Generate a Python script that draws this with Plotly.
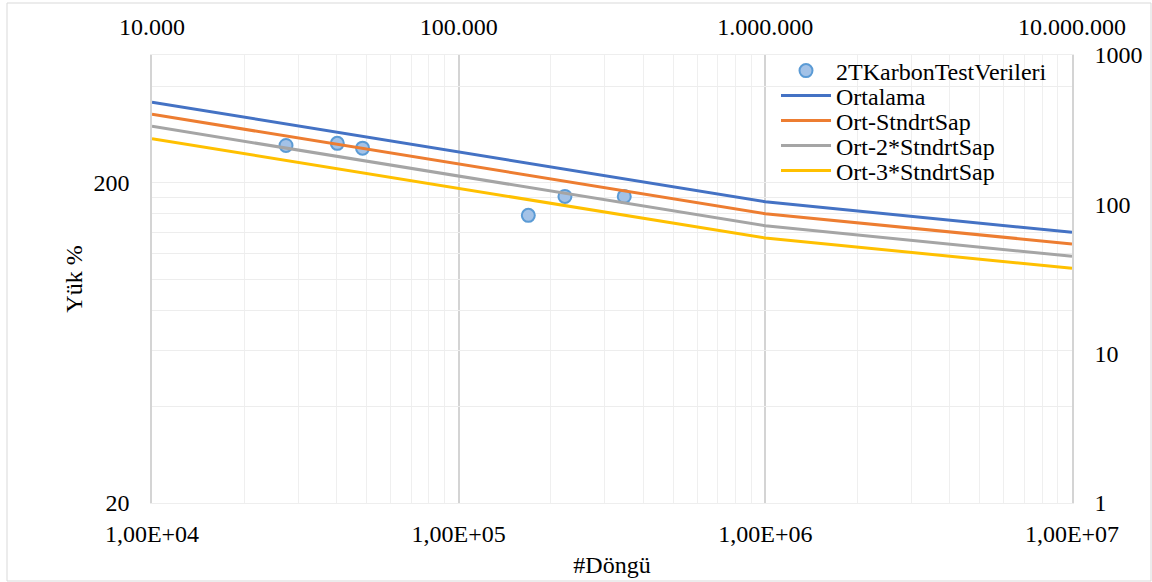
import plotly.graph_objects as go

# ---- data ----
test_cycles = [27350, 40200, 48600, 168700, 222100, 346700]
test_load = [261, 265, 256, 158, 181, 181]

curve_cycles = [1e4, 1e6, 1e7]
ortalama = [483, 104, 65]
ort_1sd = [401, 86.5, 54.3]
ort_2sd = [333, 71.8, 44.9]
ort_3sd = [275, 59.5, 37.3]

x_ticks = [1e4, 1e5, 1e6, 1e7]
x_bottom_labels = ["1,00E+04", "1,00E+05", "1,00E+06", "1,00E+07"]
x_top_labels = ["10.000", "100.000", "1.000.000", "10.000.000"]
y_left_ticks = [20, 40, 60, 80, 100, 120, 140, 160, 180, 200, 400]
y_left_labels = ["20", "", "", "", "", "", "", "", "", "200", ""]
y_right_ticks = [1, 10, 100, 1000]
y_right_labels = ["1", "10", "100", "1000"]
x_minor = [m * 10 ** e for e in (4, 5, 6) for m in range(2, 10)]

FONT = "Liberation Serif, Times New Roman, serif"
FS = 24

W, H = 1152, 582
PL, PR, PT, PB = 152, 1072, 55, 503
legend_rows_px = [71, 96, 121, 146, 171]
legend_left_px = 776

fig = go.Figure()
fig.add_trace(go.Scatter(
    x=test_cycles, y=test_load, mode="markers", name="2TKarbonTestVerileri",
    marker=dict(size=13, color="#A3C2E7", line=dict(color="#5B9BD5", width=2)),
    xaxis="x", yaxis="y", legend="legend"))
names = ["Ortalama", "Ort-StndrtSap", "Ort-2*StndrtSap", "Ort-3*StndrtSap"]
series = [ortalama, ort_1sd, ort_2sd, ort_3sd]
colors = ["#4472C4", "#ED7D31", "#A5A5A5", "#FFC000"]
for i, (name, vals, col) in enumerate(zip(names, series, colors)):
    fig.add_trace(go.Scatter(x=curve_cycles, y=vals, mode="lines", name=name,
                             line=dict(color=col, width=3),
                             xaxis="x2", yaxis="y2",
                             legend="legend%d" % (i + 2)))

legend_common = dict(xanchor="left", yanchor="middle",
                     bgcolor="rgba(0,0,0,0)", itemwidth=50,
                     font=dict(size=FS, family=FONT, color="black"))
legends = {}
for i, ypx in enumerate(legend_rows_px):
    key = "legend" if i == 0 else "legend%d" % (i + 1)
    legends[key] = dict(legend_common,
                        x=(legend_left_px - PL) / (PR - PL),
                        y=(PB - ypx) / (PB - PT))

fig.update_layout(
    width=W, height=H,
    margin=dict(l=PL, r=W - PR, t=PT, b=H - PB, autoexpand=False),
    paper_bgcolor="white", plot_bgcolor="white",
    font=dict(family=FONT, size=FS, color="black"),
    showlegend=True,
    **legends,
    xaxis=dict(type="log", range=[4, 7], tickmode="array", tickvals=x_ticks,
               ticktext=x_bottom_labels, showgrid=True, gridcolor="#D4D4D4",
               gridwidth=1.5, automargin=False,
               minor=dict(tickmode="array", tickvals=x_minor, showgrid=True,
                          gridcolor="#EFEFEF", gridwidth=1),
               showline=True, linecolor="#EEEEEE", linewidth=1, mirror=False,
               ticks="", ticklabelstandoff=9, zeroline=False,
               title=dict(text="#Döngü", standoff=10,
                          font=dict(size=FS, family=FONT))),
    xaxis2=dict(type="log", range=[4, 7], overlaying="x", side="top",
                anchor="y2", tickmode="array", tickvals=x_ticks,
                ticktext=x_top_labels, showgrid=False, showline=True,
                automargin=False,
                linecolor="#EEEEEE", ticks="", ticklabelstandoff=9,
                zeroline=False),
    yaxis=dict(type="log", range=[1.30103, 2.69897], tickmode="array",
               tickvals=y_left_ticks, ticktext=y_left_labels, showgrid=True,
               gridcolor="#EDEDED", gridwidth=1, showline=True,
               automargin=False,
               linecolor="#D4D4D4", linewidth=1.5, ticks="",
               ticklabelstandoff=16, zeroline=False,
               title=dict(text="Yük %", standoff=4,
                          font=dict(size=FS, family=FONT))),
    yaxis2=dict(type="log", range=[0, 3], overlaying="y", side="right",
                anchor="x2", tickmode="array", tickvals=y_right_ticks,
                ticktext=y_right_labels, showgrid=False, showline=True,
                automargin=False,
                linecolor="#D4D4D4", linewidth=1.5, ticks="",
                ticklabelstandoff=16, zeroline=False),
    shapes=[dict(type="rect", xref="paper", yref="paper",
                 x0=(7 - PL) / (PR - PL), x1=(1151 - PL) / (PR - PL),
                 y0=(PB - 581) / (PB - PT), y1=(PB - 3) / (PB - PT),
                 line=dict(color="#D9D9D9", width=1), layer="below")],
)

fig.write_html("out.html", config={"displayModeBar": False},
               post_script="document.body.style.margin='0';"
                           "document.body.style.overflow='hidden';")
